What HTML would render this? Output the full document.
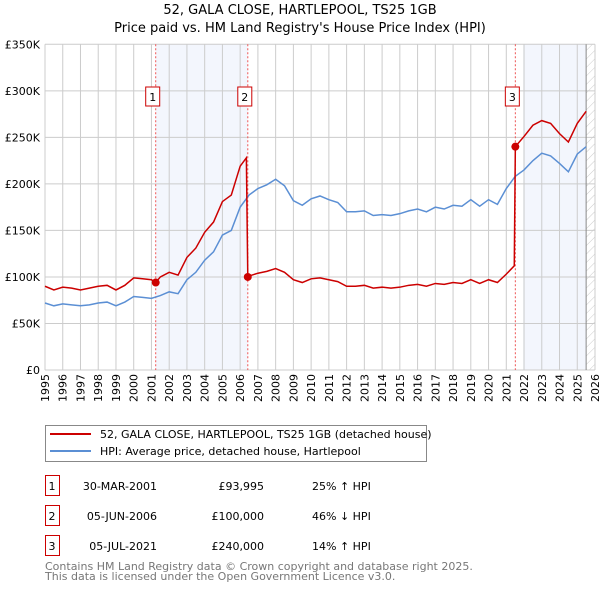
<!DOCTYPE html>
<html><head><meta charset="utf-8"><style>
body{margin:0;background:#fff;font-family:"DejaVu Sans","Liberation Sans",sans-serif;}
svg{display:block}
</style></head><body>
<svg id="c" width="600" height="590" xmlns="http://www.w3.org/2000/svg">
<defs><pattern id="hatch" width="6" height="6" patternUnits="userSpaceOnUse" patternTransform="rotate(45)"><line x1="0" y1="0" x2="0" y2="6" stroke="#ccc" stroke-width="1"/></pattern></defs>
<text x="300" y="14" text-anchor="middle" font-size="13">52, GALA CLOSE, HARTLEPOOL, TS25 1GB</text>
<text x="300" y="32" text-anchor="middle" font-size="13">Price paid vs. HM Land Registry's House Price Index (HPI)</text>
<g id="plot"></g>
<g>
<rect x="45.5" y="425.5" width="381" height="36" fill="#fff" stroke="#888"/>
<line x1="50" y1="434" x2="91" y2="434" stroke="#cc0000" stroke-width="2"/>
<text x="100" y="438" font-size="11">52, GALA CLOSE, HARTLEPOOL, TS25 1GB (detached house)</text>
<line x1="50" y1="451" x2="91" y2="451" stroke="#5b8fd4" stroke-width="2"/>
<text x="100" y="455" font-size="11">HPI: Average price, detached house, Hartlepool</text>
</g>
<g id="table" font-size="11"></g>
<text x="45" y="570" font-size="11" fill="#777">Contains HM Land Registry data © Crown copyright and database right 2025.</text>
<text x="45" y="580" font-size="11" fill="#777">This data is licensed under the Open Government Licence v3.0.</text>
</svg>
<script>
const hpiYears=[1995,1995.5,1996,1996.5,1997,1997.5,1998,1998.5,1999,1999.5,2000,2000.5,2001,2001.5,2002,2002.5,2003,2003.5,2004,2004.5,2005,2005.5,2006,2006.5,2007,2007.5,2008,2008.5,2009,2009.5,2010,2010.5,2011,2011.5,2012,2012.5,2013,2013.5,2014,2014.5,2015,2015.5,2016,2016.5,2017,2017.5,2018,2018.5,2019,2019.5,2020,2020.5,2021,2021.5,2022,2022.5,2023,2023.5,2024,2024.5,2025,2025.5];
const hpiValues=[72,69,71,70,69,70,72,73,69,73,79,78,77,80,84,82,97,105,118,127,145,150,175,188,195,199,205,198,182,177,184,187,183,180,170,170,171,166,167,166,168,171,173,170,175,173,177,176,183,176,183,178,195,208,215,225,233,230,222,213,232,240];
const redYears=[1995,1995.5,1996,1996.5,1997,1997.5,1998,1998.5,1999,1999.5,2000,2000.5,2001,2001.24,2001.5,2002,2002.5,2003,2003.5,2004,2004.5,2005,2005.5,2006,2006.35,2006.43,2006.5,2007,2007.5,2008,2008.5,2009,2009.5,2010,2010.5,2011,2011.5,2012,2012.5,2013,2013.5,2014,2014.5,2015,2015.5,2016,2016.5,2017,2017.5,2018,2018.5,2019,2019.5,2020,2020.5,2021,2021.45,2021.51,2022,2022.5,2023,2023.5,2024,2024.5,2025,2025.5];
const redValues=[90,86,89,88,86,88,90,91,86,91,99,98,97,94,100,105,102,121,131,148,159,181,188,219,228,100,101,104,106,109,105,97,94,98,99,97,95,90,90,91,88,89,88,89,91,92,90,93,92,94,93,97,93,97,94,103,112,240,251,263,268,265,254,245,265,278];
const saleLabels=["1","2","3"];
const saleYears=[2001.24,2006.43,2021.51];
const saleValues=[93.995,100,240];
const saleDates=["30-MAR-2001","05-JUN-2006","05-JUL-2021"];
const salePrices=["£93,995","£100,000","£240,000"];
const saleHpi=["25% ↑ HPI","46% ↓ HPI","14% ↑ HPI"];
const yTicks=[0,50,100,150,200,250,300,350];
const yTickLabels=["£0","£50K","£100K","£150K","£200K","£250K","£300K","£350K"];

const X0=45,X1=595,Y0=370,Y1=44.3;
const xs=y=>X0+(y-1995)*(X1-X0)/31;
const ys=v=>Y0-v*(Y0-Y1)/350;
const NS="http://www.w3.org/2000/svg";
const plot=document.getElementById('plot');
function mk(tag,at,par){const e=document.createElementNS(NS,tag);for(const k in at)e.setAttribute(k,at[k]);(par||plot).appendChild(e);return e;}

let r=mk('rect',{x:xs(saleYears[0]),y:Y1,width:xs(saleYears[1])-xs(saleYears[0]),height:Y0-Y1,fill:'#f3f6fd'});


r=mk('rect',{x:xs(2021.95),y:Y1,width:xs(2025.5)-xs(2021.95),height:Y0-Y1,fill:'#f3f6fd'});


r=mk('rect',{x:xs(2025.5),y:Y1,width:X1-xs(2025.5),height:Y0-Y1,fill:'url(#hatch)'});



for(let yr=1995;yr<=2026;yr++){
  const l=mk('line',{x1:xs(yr),x2:xs(yr),y1:Y1,y2:Y0,stroke:'#ccc','stroke-width':1});
  
  
  const t=mk('text',{x:0,y:0,'font-size':11,'text-anchor':'end',transform:`translate(${xs(yr)+4},${Y0+4}) rotate(-90)`});
  t.textContent=yr;
  
  
}
yTicks.forEach((v,i)=>{
  const l=mk('line',{x1:X0,x2:X1,y1:ys(v),y2:ys(v),stroke:'#ccc','stroke-width':1});
  
  
  const t=mk('text',{x:40,y:ys(v)+4,'font-size':11,'text-anchor':'end'});
  t.textContent=yTickLabels[i];
  
  
});
const xl=mk('line',{x1:xs(2025.5),x2:xs(2025.5),y1:Y1,y2:Y0,stroke:'#888'});



saleYears.forEach((y,i)=>{
  const l=mk('line',{x1:xs(y),x2:xs(y),y1:Y1,y2:Y0,stroke:'#ee5555','stroke-width':1,'stroke-dasharray':'2,2'});
  
  
});

const hp=mk('polyline',{points:hpiYears.map((y,i)=>xs(y)+','+ys(hpiValues[i])).join(' '),fill:'none',stroke:'#5b8fd4','stroke-width':1.5});


const rp=mk('polyline',{points:redYears.map((y,i)=>xs(y)+','+ys(redValues[i])).join(' '),fill:'none',stroke:'#cc0000','stroke-width':1.5});



saleYears.forEach((y,i)=>{
  const c=mk('circle',{cx:xs(y),cy:ys(saleValues[i]),r:4,fill:'#cc0000'});
  
  
  const b=mk('rect',{x:xs(y)-10,y:87,width:14,height:19,fill:'#fff',stroke:'#cc0000'});
  
  
  const t=mk('text',{x:xs(y)-3,y:101,'font-size':11,'text-anchor':'middle'});
  t.textContent=saleLabels[i];
  
  
});

const tb=document.getElementById('table');
saleLabels.forEach((s,i)=>{
  const yy=476+i*30;
  const b=mk('rect',{x:45.5,y:yy-0.5,width:14,height:20,fill:'#fff',stroke:'#cc0000'},tb);
  
  
  const vals=[[s,52,'middle'],[saleDates[i],157,'end'],[salePrices[i],264,'end'],[saleHpi[i],312,'start']];
  vals.forEach(v=>{
    const t=mk('text',{x:v[1],y:yy+14,'text-anchor':v[2]},tb);
    t.textContent=v[0];
    
    
  });
});
</script>
</body></html>
